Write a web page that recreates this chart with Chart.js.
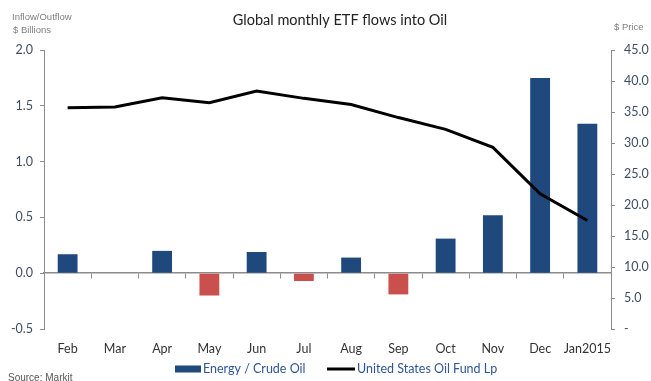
<!DOCTYPE html>
<html>
<head>
<meta charset="utf-8">
<script src="https://cdn.jsdelivr.net/npm/chart.js@4/dist/chart.umd.min.js"></script>
<style>
  html, body { margin: 0; padding: 0; background: #fff; }
  #wrap { width: 651px; height: 381px; position: relative; }
</style>
</head>
<body>
<div id="wrap"><canvas id="c" width="651" height="381"></canvas></div>
<script>
const categories = ['Feb', 'Mar', 'Apr', 'May', 'Jun', 'Jul', 'Aug', 'Sep', 'Oct', 'Nov', 'Dec', 'Jan2015'];
const etfFlows = [0.17, 0, 0.20, -0.20, 0.19, -0.07, 0.14, -0.19, 0.31, 0.52, 1.75, 1.34];
const oilFundPrice = [35.7, 35.8, 37.3, 36.5, 38.4, 37.2, 36.2, 34.1, 32.2, 29.3, 21.8, 17.5];
const flowTicks = { min: -0.5, max: 2.0, step: 0.5 };
const priceTicks = { min: 0, max: 45, step: 5 };

const BLUE = '#1F497D';
const RED = '#C9504C';
const AXIS = '#8c8c8c';
const TICK_TEXT = '#3F4D66';
const FONT = 'Lato, "Open Sans", sans-serif';

const textPlugin = {
  id: 'texts',
  afterDraw(chart) {
    const ctx = chart.ctx;
    ctx.save();
    // Title
    ctx.fillStyle = '#222';
    ctx.font = '14.5px ' + FONT;
    ctx.textAlign = 'center';
    ctx.textBaseline = 'middle';
    ctx.fillText('Global monthly ETF flows into Oil', 340, 20);
    // axis captions
    ctx.fillStyle = '#808080';
    ctx.font = '9.5px "Liberation Sans", Arial, sans-serif';
    ctx.textAlign = 'left';
    ctx.fillText('Inflow/Outflow', 12, 17);
    ctx.fillText('$ Billions', 13, 30);
    ctx.fillText('$ Price', 614, 27);
    // Source
    ctx.fillStyle = '#555';
    ctx.font = '10px "Liberation Sans", Arial, sans-serif';
    ctx.textBaseline = 'top';
    ctx.fillText('Source: Markit', 8, 373);
    // Legend
    const ds = chart.data.datasets;
    const ly = 369;
    ctx.textBaseline = 'middle';
    ctx.font = '12.5px ' + FONT;
    ctx.fillStyle = BLUE;
    ctx.fillRect(175, ly - 3.5, 26, 7);
    ctx.fillStyle = '#2F5597';
    ctx.fillText(ds[0].label, 203, ly);
    ctx.strokeStyle = ds[1].borderColor;
    ctx.lineWidth = 3;
    ctx.beginPath();
    ctx.moveTo(327, ly);
    ctx.lineTo(355, ly);
    ctx.stroke();
    ctx.fillText(ds[1].label, 357, ly);
    ctx.restore();
  }
};

new Chart(document.getElementById('c'), {
  data: {
    labels: categories,
    datasets: [
      {
        type: 'bar',
        label: 'Energy / Crude Oil',
        data: etfFlows,
        yAxisID: 'y',
        xAxisID: 'x',
        backgroundColor: (c) => (c.raw < 0 ? RED : BLUE),
        barPercentage: 0.42,
        categoryPercentage: 1.0,
        order: 2
      },
      {
        type: 'line',
        label: 'United States Oil Fund Lp',
        data: oilFundPrice,
        yAxisID: 'y1',
        xAxisID: 'x',
        borderColor: '#000',
        borderWidth: 3,
        pointRadius: 0,
        tension: 0,
        fill: false,
        order: 1
      }
    ]
  },
  options: {
    responsive: false,
    animation: false,
    devicePixelRatio: 1,
    layout: { padding: { top: 50, bottom: 22, left: 0, right: 0 } },
    plugins: {
      legend: { display: false },
      title: { display: false },
      tooltip: { enabled: false }
    },
    scales: {
      x: {
        type: 'category',
        position: 'bottom',
        offset: true,
        grid: { display: false, drawTicks: false },
        border: { display: false },
        ticks: { color: '#333', font: { family: FONT, size: 12.5 }, padding: 12, maxRotation: 0, autoSkip: false },
        afterFit: (s) => { s.height = 30; }
      },
      x2: {
        type: 'category',
        labels: categories,
        position: { y: 0 },
        offset: true,
        grid: { display: true, offset: true, drawOnChartArea: false, drawTicks: true, tickLength: 5, color: AXIS },
        border: { display: true, color: AXIS, width: 1.5 },
        ticks: { display: false }
      },
      y: {
        position: 'left',
        min: flowTicks.min,
        max: flowTicks.max,
        ticks: {
          stepSize: flowTicks.step,
          color: TICK_TEXT,
          font: { family: FONT, size: 12.5 },
          padding: 7,
          callback: (v) => Number(v).toFixed(1)
        },
        grid: { drawOnChartArea: false, drawTicks: true, tickLength: 4, color: AXIS },
        border: { color: AXIS },
        afterFit: (s) => { s.width = 44; }
      },
      y1: {
        position: 'right',
        min: priceTicks.min,
        max: priceTicks.max,
        ticks: {
          stepSize: priceTicks.step,
          color: TICK_TEXT,
          font: { family: FONT, size: 12.5 },
          padding: 9,
          callback: (v) => (Number(v) === 0 ? '-' : Number(v).toFixed(1))
        },
        grid: { drawOnChartArea: false, drawTicks: true, tickLength: 4, color: AXIS },
        border: { color: AXIS },
        afterFit: (s) => { s.width = 40; }
      }
    }
  },
  plugins: [textPlugin]
});
</script>
</body>
</html>
